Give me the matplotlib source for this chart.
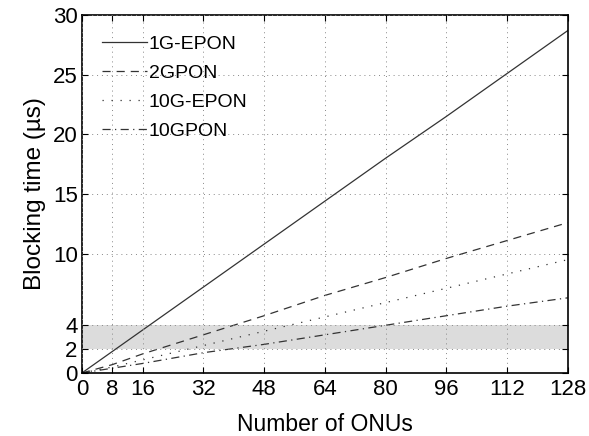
import matplotlib
matplotlib.use("Agg")
import matplotlib.pyplot as plt

plt.rcParams['font.family'] = ['Liberation Sans', 'DejaVu Sans']

onus = [0, 8, 16, 32, 48, 64, 80, 96, 112, 128]
epon_1g = [0, 1.8, 3.6, 7.2, 10.8, 14.4, 18.0, 21.5, 25.1, 28.7]
gpon_2g = [0, 0.7, 1.6, 3.2, 4.8, 6.5, 8.0, 9.6, 11.1, 12.6]
epon_10g = [0, 0.5, 1.1, 2.3, 3.5, 4.7, 5.9, 7.1, 8.3, 9.5]
gpon_10g = [0, 0.4, 0.8, 1.7, 2.4, 3.2, 4.0, 4.8, 5.6, 6.3]
labels = ['1G-EPON', '2GPON', '10G-EPON', '10GPON']
xticks = [0, 8, 16, 32, 48, 64, 80, 96, 112, 128]
yticks = [0, 2, 4, 10, 15, 20, 25, 30]
band = (2, 4)

fig = plt.figure(figsize=(5.89, 4.36), dpi=100)
ax = fig.add_axes([0.139, 0.1445, 0.825, 0.821])

ax.axhspan(band[0], band[1], color='#dcdcdc', zorder=0, lw=0)

c = '#333333'
lw = 0.9
ax.plot(onus, epon_1g, color=c, lw=lw, ls='-', label=labels[0])
ax.plot(onus, gpon_2g, color=c, lw=lw, ls=(0, (6.5, 4.8)), label=labels[1])
ax.plot(onus, epon_10g, color=c, lw=lw, ls=(0, (1, 6.2)), label=labels[2])
ax.plot(onus, gpon_10g, color=c, lw=lw, ls=(0, (6.5, 3.5, 1, 3.5)), label=labels[3])

ax.set_xlim(0, 128)
ax.set_ylim(0, 30)
ax.set_xticks(xticks)
ax.set_yticks(yticks)
ax.grid(True, ls=(0, (1, 4)), color='#888888', lw=0.7, zorder=1)
ax.set_axisbelow(False)
ax.tick_params(direction='in', top=True, right=True, labelsize=16, length=4, width=0.8)
ax.tick_params(axis='x', pad=4.5)
ax.tick_params(axis='y', pad=3)
for s in ax.spines.values():
    s.set_linewidth(1.2)

ax.set_xlabel('Number of ONUs', fontsize=16.5, labelpad=9)
ax.set_ylabel('Blocking time (µs)', fontsize=17.5, labelpad=5)

ax.legend(loc='upper left', frameon=False, fontsize=14, handlelength=2.3,
          handletextpad=0.1, labelspacing=0.58, borderaxespad=0.75,
          borderpad=0.3)

fig.savefig('out.png', dpi=100)
